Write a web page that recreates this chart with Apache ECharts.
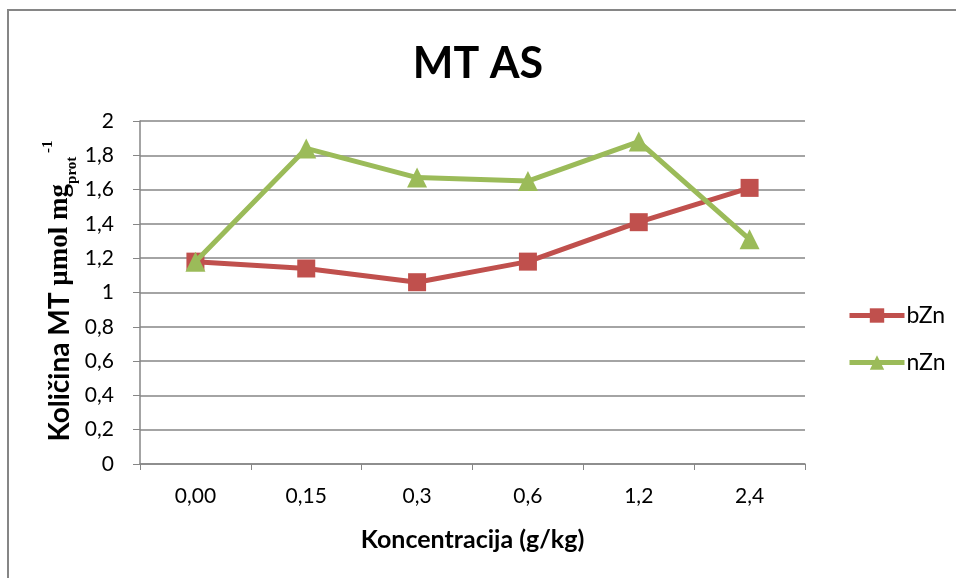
<!DOCTYPE html>
<html>
<head>
<meta charset="utf-8">
<script src="https://cdn.jsdelivr.net/npm/echarts@6/dist/echarts.min.js"></script>
<style>
  html, body { margin: 0; padding: 0; background: #fff; }
  #chart { width: 956px; height: 578px; }
</style>
</head>
<body>
<div id="chart"></div>
<script>
  // data
  const categories = ['0,00', '0,15', '0,3', '0,6', '1,2', '2,4'];
  const bZn = [1.18, 1.14, 1.06, 1.18, 1.41, 1.61];
  const nZn = [1.18, 1.84, 1.67, 1.65, 1.88, 1.31];
  const yTicks = { min: 0, max: 2, interval: 0.2 };

  const font = 'Lato, "Open Sans", sans-serif';
  const serif = '"Liberation Serif", "DejaVu Serif", serif';
  const gray = '#868686';

  // y axis title pieces (text, font, size, offset across the line)
  const yTitle = [
    { text: 'Količina MT ', family: font, size: 28, dy: 0 },
    { text: 'µmol mg', family: serif, size: 27, dy: 0 },
    { text: 'prot', family: serif, size: 15, dy: 12 },
    { text: ' -1', family: serif, size: 15, dy: -12 },
  ];

  const ctx = document.createElement('canvas').getContext('2d');
  let along = 0;
  const yTitleTexts = yTitle.map((p) => {
    ctx.font = 'bold ' + p.size + 'px ' + p.family;
    const el = {
      type: 'text',
      x: along,
      y: p.dy,
      style: {
        text: p.text,
        fontSize: p.size,
        fontWeight: 'bold',
        fontFamily: p.family,
        fill: '#000',
        align: 'left',
        verticalAlign: 'middle',
      },
    };
    along += ctx.measureText(p.text).width;
    return el;
  });

  const chart = echarts.init(document.getElementById('chart'));

  const option = {
    backgroundColor: '#fff',
    animation: false,
    title: {
      text: 'MT AS',
      left: 'center',
      top: 38,
      textStyle: { fontSize: 43, fontWeight: 'bold', fontFamily: font, color: '#000' },
    },
    graphic: [
      {
        type: 'polyline',
        shape: { points: [[8, 600], [8, 10], [960, 10]] },
        style: { stroke: gray, lineWidth: 2, fill: null },
      },
      {
        type: 'group',
        x: 60,
        y: 291 + along / 2,
        rotation: Math.PI / 2,
        children: yTitleTexts,
      },
    ],
    legend: {
      orient: 'vertical',
      left: 842,
      top: 299,
      itemGap: 24,
      itemWidth: 55,
      itemHeight: 18,
      lineStyle: { width: 5 },
      textStyle: { fontSize: 23, fontFamily: font, color: '#000', padding: [0, 0, 0, -3] },
      data: ['bZn', 'nZn'],
    },
    grid: { left: 140, right: 151, top: 121, bottom: 114 },
    xAxis: {
      type: 'category',
      data: categories,
      boundaryGap: true,
      name: 'Koncentracija (g/kg)',
      nameLocation: 'middle',
      nameGap: 63,
      nameTextStyle: { fontSize: 25, fontWeight: 'bold', fontFamily: font, color: '#000' },
      axisLine: { lineStyle: { color: gray, width: 1.5 } },
      axisTick: { show: true, length: 6, lineStyle: { color: gray } },
      axisLabel: { fontSize: 21, fontFamily: font, color: '#000', margin: 22 },
    },
    yAxis: {
      type: 'value',
      min: yTicks.min,
      max: yTicks.max,
      interval: yTicks.interval,
      axisLine: { show: true, lineStyle: { color: gray, width: 1.5 } },
      axisTick: { show: true, inside: false, length: 7, lineStyle: { color: gray } },
      axisLabel: {
        fontSize: 21,
        fontFamily: font,
        color: '#000',
        margin: 26,
        formatter: (v) => String(Math.round(v * 10) / 10).replace('.', ','),
      },
      splitLine: { show: true, lineStyle: { color: gray, width: 1.5 } },
    },
    series: [
      {
        name: 'bZn',
        type: 'line',
        data: bZn,
        symbol: 'rect',
        symbolSize: 18,
        color: '#C0504D',
        lineStyle: { width: 5, color: '#C0504D' },
        itemStyle: { color: '#C0504D' },
        z: 2,
      },
      {
        name: 'nZn',
        type: 'line',
        data: nZn,
        symbol: 'triangle',
        symbolSize: 20,
        color: '#9BBB59',
        lineStyle: { width: 5, color: '#9BBB59' },
        itemStyle: { color: '#9BBB59' },
        z: 3,
      },
    ],
  };

  chart.setOption(option);
</script>
</body>
</html>
